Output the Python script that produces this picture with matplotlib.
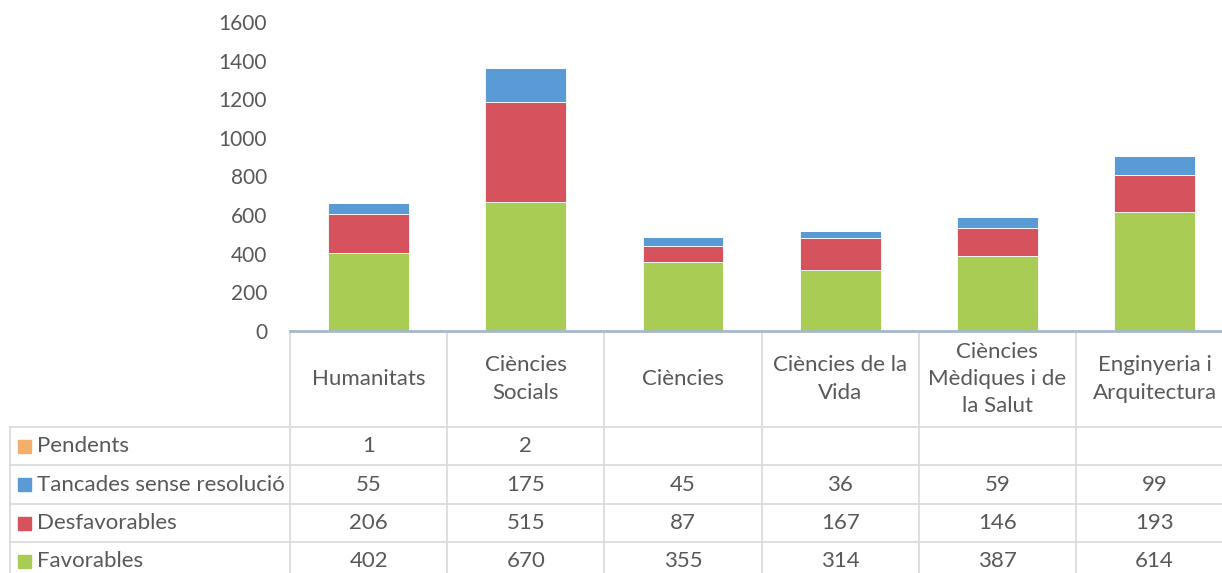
import numpy as np
import matplotlib
matplotlib.use("Agg")
import matplotlib.pyplot as plt
from matplotlib.patches import Rectangle

categories = ["Humanitats", "Ciències\nSocials", "Ciències", "Ciències de la\nVida",
              "Ciències\nMèdiques i de\nla Salut", "Enginyeria i\nArquitectura"]
series_names = ["Pendents", "Tancades sense resolució", "Desfavorables", "Favorables"]
pendents = [1, 2, None, None, None, None]
tancades = [55, 175, 45, 36, 59, 99]
desfavorables = [206, 515, 87, 167, 146, 193]
favorables = [402, 670, 355, 314, 387, 614]
colors = {"Pendents": "#F4B06B", "Tancades sense resolució": "#5B9BD5",
          "Desfavorables": "#D6535D", "Favorables": "#A9CD54"}
yticks = [0, 200, 400, 600, 800, 1000, 1200, 1400, 1600]

plt.rcParams['font.family'] = ['Lato', 'DejaVu Sans']
TXT = "#595959"
FS = 16

W, H = 1222, 573
fig = plt.figure(figsize=(W / 100, H / 100), dpi=100)

# pixel layout
x0, colw = 290, 157.2
y_zero, y_top = 331, 22
hdr_bottom = 427
rowh = 38.4
n = len(categories)

ax = fig.add_axes([x0 / W, 1 - y_zero / H, n * colw / W, (y_zero - y_top) / H])
x = np.arange(n)
vals = {"Favorables": favorables, "Desfavorables": desfavorables,
        "Tancades sense resolució": tancades,
        "Pendents": [v if v is not None else 0 for v in pendents]}
bottom = np.zeros(n)
for name in ["Favorables", "Desfavorables", "Tancades sense resolució", "Pendents"]:
    v = np.array(vals[name], dtype=float)
    ax.bar(x, v, 0.515, bottom=bottom, color=colors[name], edgecolor="white", linewidth=0.6)
    bottom += v
ax.set_xlim(-0.5, n - 0.5)
ax.set_ylim(0, 1600)
ax.set_yticks(yticks)
ax.tick_params(axis="y", length=0, labelsize=15, labelcolor=TXT, pad=16.5)
ax.set_xticks([])
for s in ["top", "right", "left"]:
    ax.spines[s].set_visible(False)
ax.spines["bottom"].set_color("#A6B8CC")
ax.spines["bottom"].set_linewidth(2)

# data table drawn in pixel coordinates
tb = fig.add_axes([0, 0, 1, 1], zorder=-1)
tb.set_xlim(0, W)
tb.set_ylim(H, 0)
tb.axis("off")
lc = "#D9D9D9"
right = x0 + n * colw
rows_top = [hdr_bottom + i * rowh for i in range(len(series_names))]
for i in range(n + 1):
    tb.plot([x0 + i * colw] * 2, [y_zero + 2, H + 5], color=lc, lw=1.2)
tb.plot([10, 10], [hdr_bottom, H + 5], color=lc, lw=1.2)
for yy in rows_top + [rows_top[-1] + rowh]:
    tb.plot([10, right], [yy, yy], color=lc, lw=1.2)

for i, c in enumerate(categories):
    cx = x0 + (i + 0.5) * colw
    tb.text(cx, (y_zero + hdr_bottom) / 2, c, ha="center", va="center",
            fontsize=FS, color=TXT, linespacing=1.45)

row_vals = {"Pendents": pendents, "Tancades sense resolució": tancades,
            "Desfavorables": desfavorables, "Favorables": favorables}
for r, name in enumerate(series_names):
    cy = rows_top[r] + rowh / 2
    tb.add_patch(Rectangle((18, cy - 6.5), 13, 13, color=colors[name]))
    tb.text(37, cy, name, ha="left", va="center", fontsize=FS, color=TXT)
    for i, v in enumerate(row_vals[name]):
        if v is None:
            continue
        tb.text(x0 + (i + 0.5) * colw, cy, str(v), ha="center", va="center",
                fontsize=FS, color=TXT)

fig.savefig("out.png", dpi=100)
